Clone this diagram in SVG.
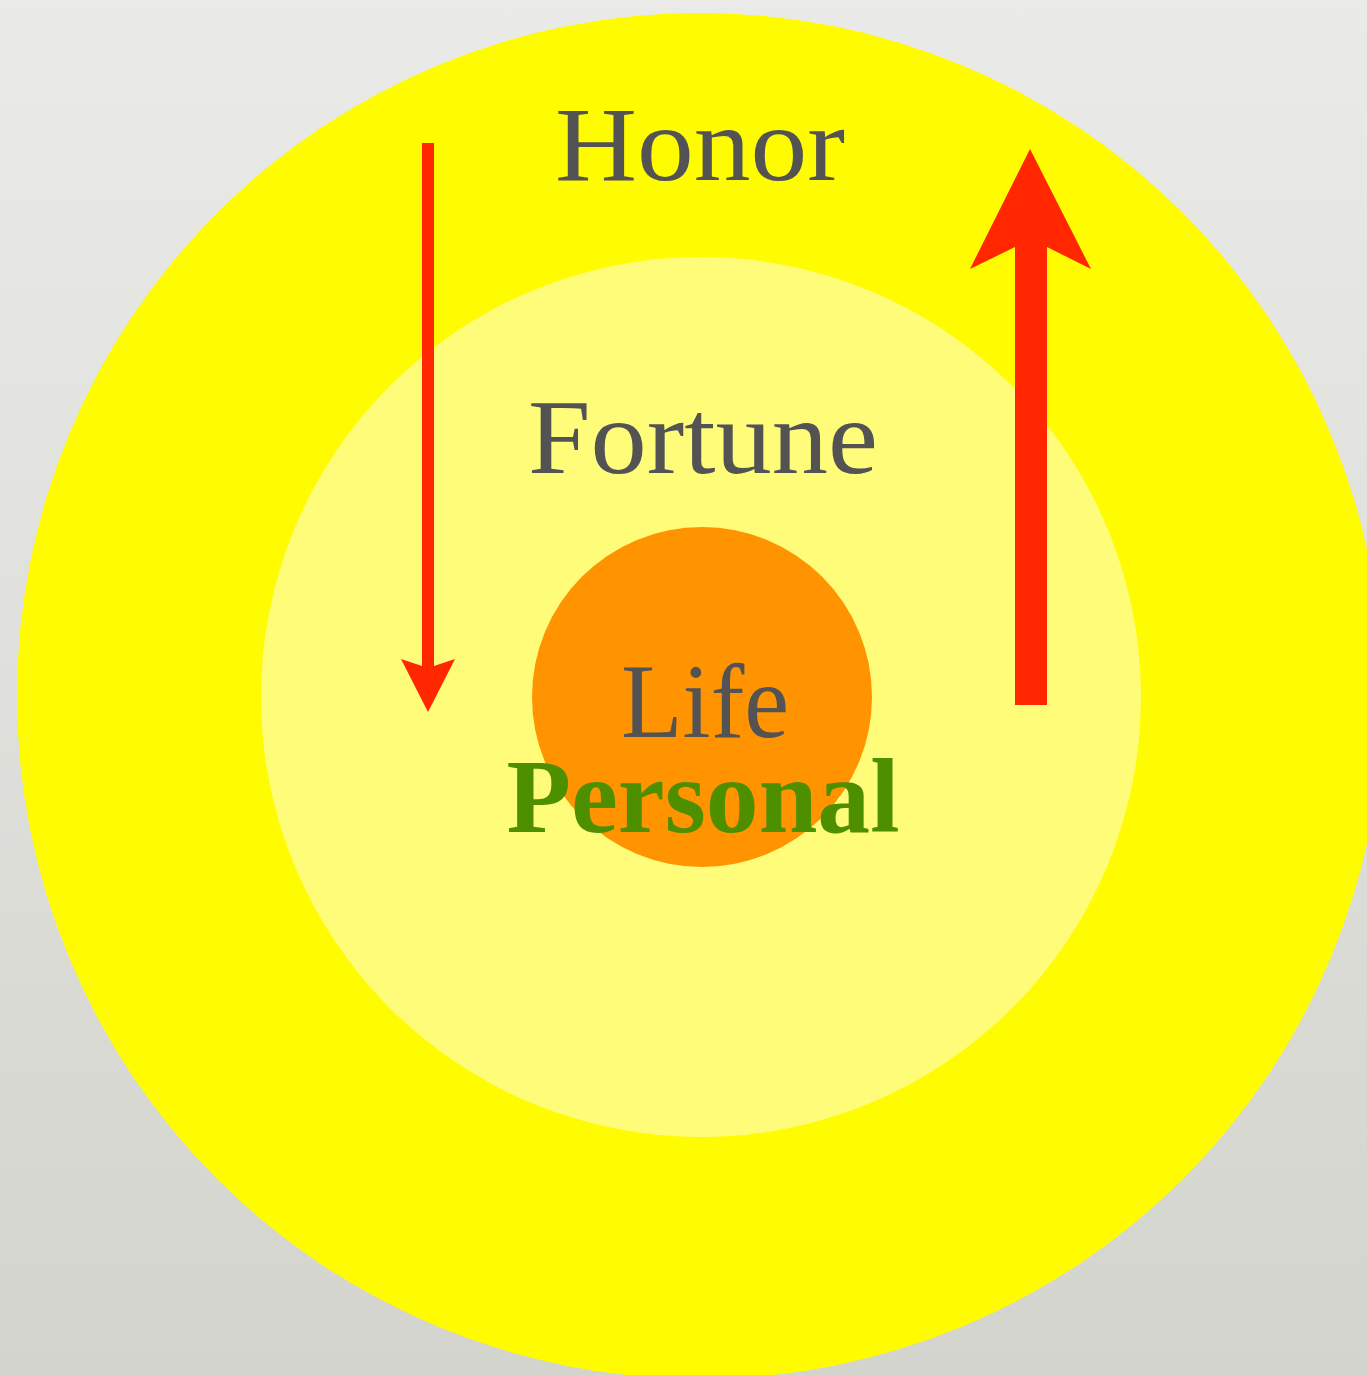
<svg xmlns="http://www.w3.org/2000/svg" width="1367" height="1375" viewBox="0 0 1367 1375">
<defs>
<linearGradient id="bg" x1="0" y1="0" x2="0" y2="1">
<stop offset="0" stop-color="#EAEAE8"/>
<stop offset="1" stop-color="#D4D4CE"/>
</linearGradient>
<style>
.lbl{font-family:"Liberation Serif","Times New Roman",serif;font-size:105px;fill:#535353;text-anchor:middle}
.bold{font-weight:bold;fill:#4E8F00}
.red{fill:#FF2600}
</style>
</defs>
<rect x="0" y="0" width="1367" height="1375" fill="url(#bg)"/>
<g id="honor">
<circle cx="700" cy="696" r="683" fill="#FFFB00"/>
<text class="lbl" x="700" y="180" textLength="290" lengthAdjust="spacingAndGlyphs">Honor</text>
</g>
<g id="fortune">
<circle cx="701" cy="697" r="440" fill="#FFFC7A"/>
<text class="lbl" x="703" y="473" textLength="350" lengthAdjust="spacingAndGlyphs">Fortune</text>
</g>
<g id="life">
<circle cx="702" cy="697" r="170" fill="#FF9300"/>
<text class="lbl" x="705" y="737" textLength="168" lengthAdjust="spacingAndGlyphs">Life</text>
</g>
<g id="personal">
<text class="lbl bold" x="703" y="832" textLength="393" lengthAdjust="spacingAndGlyphs">Personal</text>
</g>
<g id="connectors">
<path class="red" d="M422,143 H434 V666 L455,659 L428,712 L401,659 L422,666 Z"/>
<path class="red" d="M1015,705 V247 L970,269 L1030,149 L1091,269 L1047,247 V705 Z"/>
</g>
</svg>
